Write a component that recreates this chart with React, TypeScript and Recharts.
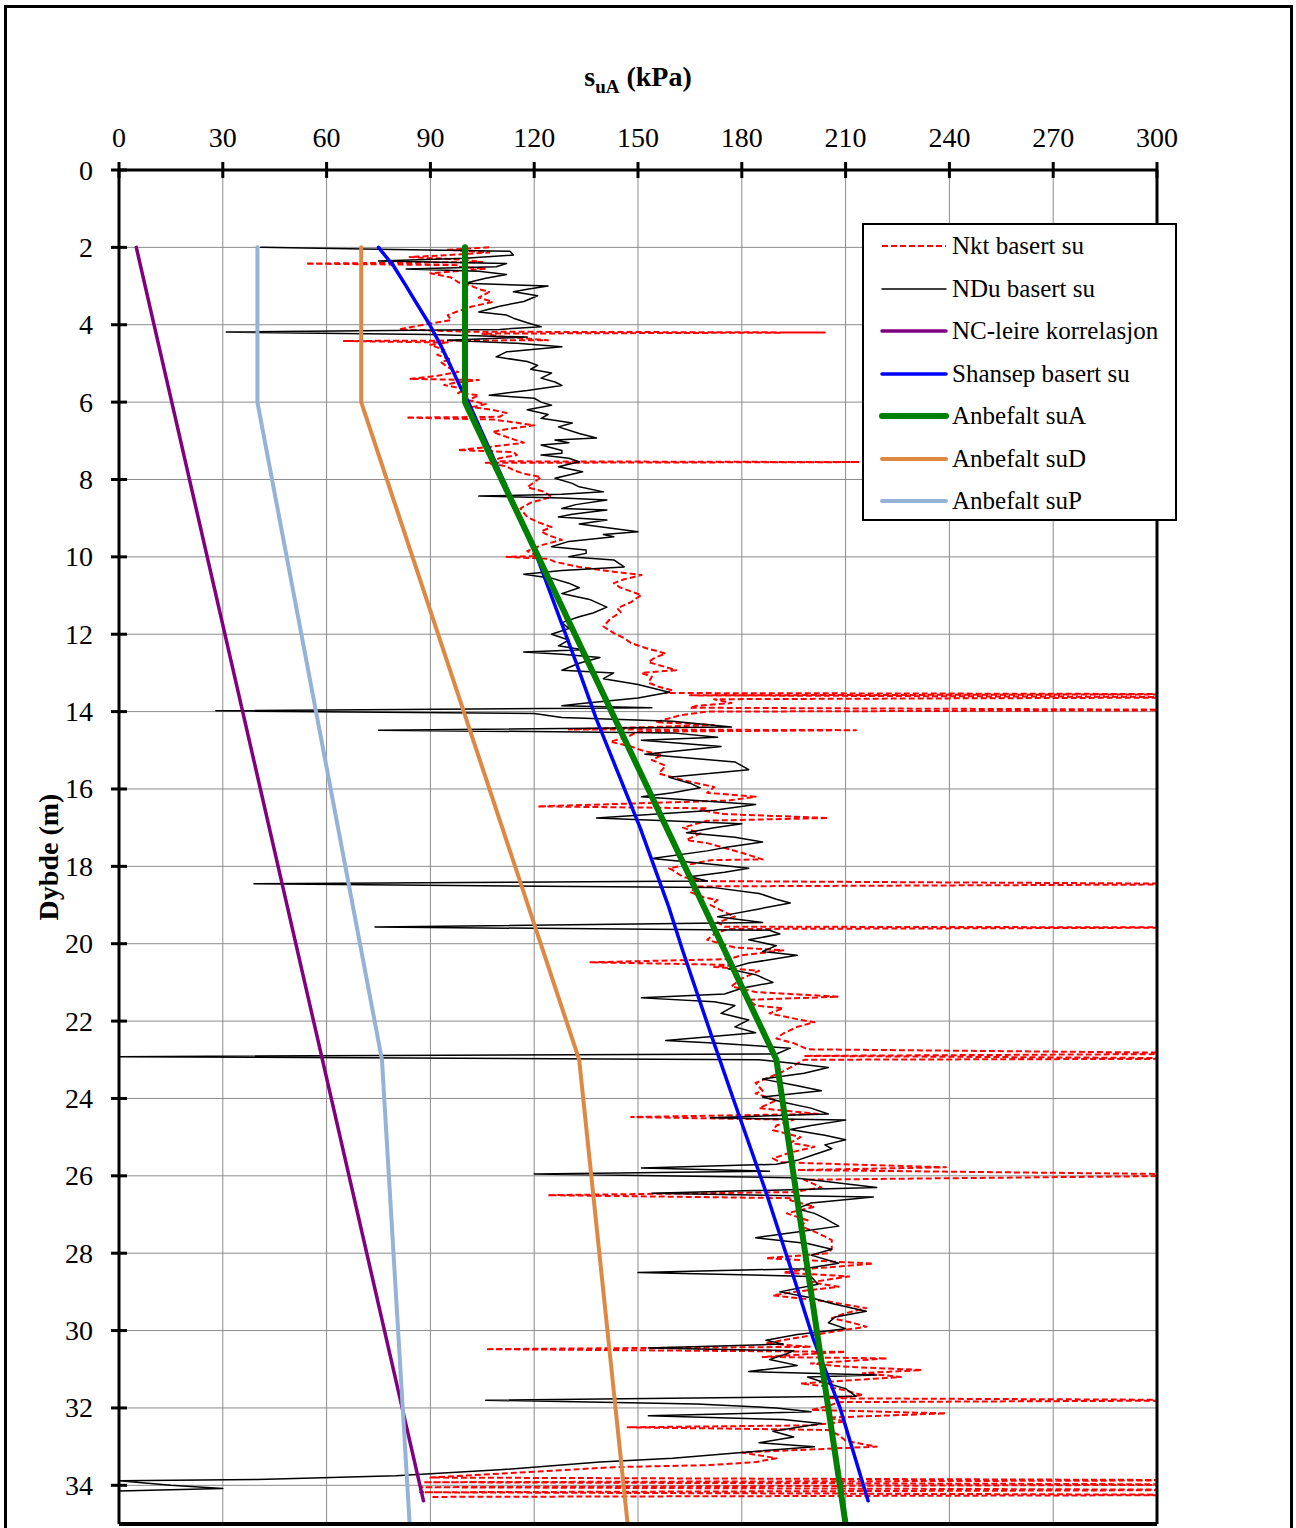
import React from 'react';
import { LineChart, Line, XAxis, YAxis, CartesianGrid, ReferenceLine } from 'recharts';

const FONT = '"Liberation Serif", "Times New Roman", serif';

const suTicks = [0, 30, 60, 90, 120, 150, 180, 210, 240, 270, 300];
const depthTicks = [0, 2, 4, 6, 8, 10, 12, 14, 16, 18, 20, 22, 24, 26, 28, 30, 32, 34];

// [depth m, su kPa]
const nktProfile: [number, number][] = [
  [2.0, 107], [2.06, 95], [2.13, 107], [2.2, 95], [2.25, 84], [2.32, 100], [2.38, 105], [2.42, 54],
  [2.46, 98], [2.5, 98], [2.55, 106], [2.62, 97], [2.67, 90], [2.78, 96], [2.9, 98], [3.0, 102],
  [3.08, 104], [3.15, 107], [3.3, 104], [3.41, 108], [3.53, 102], [3.65, 98], [3.75, 95], [3.88, 96],
  [3.97, 90], [4.05, 85], [4.12, 81], [4.18, 100], [4.2, 204], [4.23, 105], [4.3, 110], [4.4, 124],
  [4.42, 65], [4.46, 95], [4.52, 90], [4.65, 94], [4.78, 92], [4.9, 96], [4.96, 93], [5.1, 95],
  [5.22, 98], [5.32, 92], [5.4, 84], [5.43, 104], [5.5, 97], [5.56, 94], [5.66, 100], [5.77, 98],
  [5.82, 104], [5.95, 101], [6.05, 106], [6.13, 102], [6.2, 108], [6.28, 112], [6.38, 110], [6.4, 83],
  [6.45, 108], [6.52, 114], [6.6, 120], [6.7, 112], [6.77, 108], [6.9, 112], [7.05, 117], [7.15, 108],
  [7.24, 98], [7.29, 114], [7.37, 115], [7.45, 110], [7.53, 108], [7.55, 214], [7.57, 106], [7.66, 112],
  [7.76, 114], [7.85, 117], [7.94, 122], [8.07, 120], [8.2, 118], [8.32, 123], [8.45, 125], [8.6, 119],
  [8.75, 116], [8.97, 118], [9.1, 121], [9.23, 125], [9.34, 122], [9.44, 124], [9.56, 128], [9.7, 122],
  [9.85, 118], [9.98, 121], [10.0, 112], [10.05, 124], [10.13, 126], [10.26, 133], [10.35, 140], [10.47, 151],
  [10.58, 146], [10.68, 143], [10.8, 145], [10.99, 151], [11.1, 149], [11.17, 148], [11.33, 144], [11.43, 145],
  [11.6, 142], [11.8, 140], [11.97, 143], [12.1, 146], [12.23, 148], [12.35, 152], [12.5, 158], [12.6, 155],
  [12.72, 153], [12.85, 158], [12.93, 161], [13.0, 151], [13.1, 154], [13.25, 153], [13.36, 156], [13.45, 160],
  [13.52, 158], [13.55, 330], [13.58, 165], [13.63, 330], [13.68, 172], [13.78, 177], [13.85, 167], [13.9, 165],
  [13.96, 330], [14.0, 170], [14.1, 162], [14.2, 158], [14.27, 155], [14.35, 172], [14.46, 130], [14.48, 213],
  [14.52, 150], [14.65, 147], [14.78, 142], [14.9, 148], [15.0, 151], [15.12, 157], [15.25, 154], [15.4, 158],
  [15.6, 156], [15.77, 163], [15.95, 172], [16.1, 170], [16.2, 184], [16.3, 176], [16.45, 121], [16.5, 170],
  [16.55, 168], [16.65, 175], [16.75, 205], [16.82, 170], [17.0, 163], [17.15, 168], [17.32, 164], [17.4, 170],
  [17.5, 174], [17.65, 180], [17.82, 186], [17.84, 171], [17.95, 165], [18.05, 159], [18.1, 160], [18.27, 163],
  [18.38, 168], [18.46, 330], [18.52, 166], [18.6, 166], [18.66, 165], [18.8, 169], [18.87, 173], [19.0, 171],
  [19.18, 175], [19.3, 178], [19.45, 173], [19.56, 175], [19.58, 330], [19.62, 176], [19.75, 172], [19.9, 170],
  [20.1, 178], [20.17, 192], [20.3, 180], [20.4, 176], [20.48, 136], [20.55, 178], [20.6, 172], [20.7, 185],
  [20.9, 180], [21.1, 177], [21.25, 184], [21.37, 208], [21.45, 182], [21.6, 184], [21.67, 192], [21.8, 188],
  [21.97, 197], [22.03, 201], [22.15, 196], [22.32, 192], [22.45, 190], [22.57, 195], [22.73, 199], [22.84, 330],
  [22.9, 198], [22.97, 330], [23.0, 198], [23.15, 195], [23.3, 192], [23.45, 188], [23.6, 184], [23.8, 186],
  [23.87, 184], [24.05, 190], [24.25, 185], [24.4, 202], [24.48, 148], [24.55, 195], [24.7, 190], [24.82, 189],
  [25.0, 197], [25.15, 194], [25.25, 201], [25.4, 194], [25.55, 189], [25.65, 191], [25.78, 239], [25.85, 196],
  [25.98, 330], [26.1, 198], [26.3, 203], [26.42, 195], [26.5, 124], [26.58, 196], [26.63, 194], [26.8, 201],
  [26.97, 193], [27.15, 199], [27.3, 197], [27.48, 202], [27.66, 206], [27.88, 206], [28.0, 205], [28.13, 187],
  [28.27, 218], [28.4, 200], [28.5, 192], [28.6, 211], [28.75, 200], [28.87, 208], [29.0, 195], [29.09, 189],
  [29.25, 205], [29.42, 216], [29.55, 210], [29.68, 206], [29.8, 212], [29.9, 216], [30.05, 205], [30.2, 195],
  [30.33, 187], [30.42, 200], [30.48, 106], [30.55, 210], [30.68, 186], [30.72, 222], [30.85, 200], [30.93, 209],
  [31.02, 232], [31.1, 215], [31.2, 226], [31.37, 197], [31.45, 205], [31.55, 210], [31.67, 215], [31.75, 205],
  [31.8, 330], [31.85, 208], [31.95, 205], [32.05, 200], [32.14, 239], [32.25, 205], [32.35, 210], [32.45, 200],
  [32.5, 147], [32.57, 205], [32.7, 208], [32.85, 210], [33.0, 219], [33.1, 193], [33.15, 180], [33.3, 190],
  [33.4, 184], [33.48, 170], [33.53, 143], [33.65, 120], [33.8, 90], [33.87, 330], [33.92, 88], [33.98, 330],
  [34.05, 87], [34.12, 330], [34.18, 87], [34.25, 330], [34.3, 90],
];

const nduProfile: [number, number][] = [
  [2.0, 41], [2.05, 75], [2.1, 113], [2.2, 114], [2.28, 100], [2.35, 75], [2.42, 112], [2.5, 109],
  [2.56, 83], [2.62, 104], [2.7, 112], [2.8, 106], [2.93, 100], [3.0, 124], [3.08, 118], [3.15, 114],
  [3.25, 121], [3.4, 117], [3.52, 110], [3.67, 104], [3.75, 112], [3.83, 114], [3.95, 118], [4.05, 122],
  [4.12, 110], [4.19, 31], [4.25, 90], [4.32, 118], [4.4, 95], [4.48, 115], [4.57, 128], [4.7, 112],
  [4.83, 109], [4.95, 118], [5.05, 121], [5.15, 119], [5.25, 125], [5.38, 122], [5.48, 126], [5.57, 128],
  [5.7, 118], [5.82, 107], [5.9, 120], [6.0, 122], [6.08, 125], [6.2, 118], [6.32, 124], [6.42, 122],
  [6.54, 131], [6.64, 127], [6.81, 133], [6.93, 138], [6.98, 126], [7.05, 130], [7.11, 122], [7.25, 128],
  [7.32, 128], [7.37, 122], [7.45, 130], [7.54, 133], [7.67, 127], [7.8, 134], [7.97, 126], [8.1, 131],
  [8.19, 133], [8.32, 140], [8.38, 128], [8.43, 104], [8.48, 128], [8.53, 141], [8.65, 132], [8.75, 128],
  [8.79, 141], [8.9, 131], [8.97, 127], [9.05, 141], [9.15, 133], [9.22, 139], [9.35, 150], [9.42, 140],
  [9.48, 143], [9.6, 130], [9.74, 125], [9.82, 135], [9.91, 135], [10.0, 130], [10.08, 143], [10.26, 146],
  [10.35, 128], [10.45, 117], [10.55, 125], [10.68, 130], [10.8, 133], [10.95, 128], [11.1, 136], [11.3, 141],
  [11.45, 137], [11.55, 133], [11.7, 128], [11.85, 130], [12.0, 125], [12.15, 130], [12.3, 127], [12.4, 134],
  [12.46, 117], [12.52, 128], [12.6, 139], [12.75, 133], [12.93, 128], [13.0, 143], [13.15, 140], [13.3, 150],
  [13.5, 159], [13.65, 150], [13.8, 133], [13.85, 128], [13.9, 154], [13.98, 28], [14.05, 120], [14.15, 128],
  [14.25, 160], [14.4, 177], [14.48, 75], [14.55, 160], [14.66, 173], [14.74, 151], [14.9, 174], [15.1, 152],
  [15.3, 178], [15.5, 182], [15.7, 159], [15.85, 165], [15.97, 168], [16.1, 160], [16.2, 151], [16.4, 184],
  [16.55, 172], [16.75, 138], [16.9, 180], [17.0, 172], [17.13, 164], [17.25, 178], [17.37, 186], [17.5, 176],
  [17.6, 170], [17.8, 154], [17.95, 172], [18.05, 182], [18.15, 175], [18.27, 165], [18.38, 170], [18.45, 39],
  [18.55, 172], [18.7, 185], [18.85, 190], [18.95, 194], [19.1, 185], [19.3, 173], [19.45, 186], [19.57, 74],
  [19.65, 188], [19.75, 191], [19.9, 182], [20.05, 190], [20.2, 186], [20.3, 196], [20.5, 182], [20.65, 176],
  [20.8, 184], [21.0, 189], [21.15, 180], [21.3, 175], [21.4, 151], [21.5, 172], [21.6, 178], [21.8, 174],
  [21.97, 182], [22.15, 178], [22.3, 184], [22.5, 158], [22.57, 173], [22.7, 194], [22.85, 190], [22.92, 0],
  [23.0, 185], [23.1, 196], [23.2, 205], [23.35, 198], [23.5, 186], [23.65, 195], [23.8, 203], [23.96, 186],
  [24.1, 192], [24.25, 200], [24.4, 205], [24.5, 171], [24.56, 210], [24.7, 200], [24.8, 194], [24.95, 204],
  [25.07, 210], [25.2, 204], [25.3, 206], [25.45, 201], [25.6, 196], [25.7, 190], [25.8, 151], [25.88, 188],
  [25.95, 120], [26.05, 195], [26.15, 205], [26.3, 219], [26.45, 154], [26.55, 218], [26.7, 200], [26.85, 196],
  [26.97, 201], [27.1, 204], [27.3, 208], [27.45, 196], [27.6, 184], [27.75, 199], [27.9, 206], [28.05, 200],
  [28.26, 208], [28.4, 198], [28.5, 150], [28.6, 200], [28.8, 202], [29.0, 191], [29.15, 200], [29.3, 206],
  [29.5, 216], [29.65, 207], [29.8, 205], [29.95, 210], [30.1, 196], [30.25, 187], [30.35, 192], [30.45, 153],
  [30.52, 195], [30.6, 193], [30.75, 188], [30.9, 196], [31.06, 182], [31.15, 219], [31.2, 199], [31.35, 204],
  [31.5, 210], [31.7, 213], [31.8, 106], [31.9, 167], [32.0, 190], [32.1, 200], [32.2, 153], [32.3, 192],
  [32.4, 203], [32.6, 189], [32.75, 195], [32.9, 185], [33.0, 201], [33.15, 180], [33.3, 160], [33.4, 139],
  [33.6, 110], [33.75, 80], [33.85, 40], [33.88, 0], [34.0, 15], [34.08, 30], [34.15, 0],
];

const ncClay: [number, number][] = [[2, 5], [34.4, 88]];

const shansep: [number, number][] = [
  [2, 75], [2.5, 79.5], [3.0, 83], [3.3, 85], [4.0, 89.8], [4.5, 92.8], [5.0, 95.5], [5.6, 98.6],
  [6, 101], [8, 111], [10, 120.8], [12.7, 132], [14.2, 138], [17, 150.6], [19, 158.7], [20.2, 163],
  [22.5, 171.7], [24, 177.5], [26.5, 187.3], [28.9, 196], [30.2, 200.6], [32, 208.4], [34.4, 216.5],
];

const suA: [number, number][] = [[2, 100], [6, 100], [23, 190], [35, 210]];
const suD: [number, number][] = [[2, 70], [6, 70], [23, 133], [35, 147]];
const suP: [number, number][] = [[2, 40], [6, 40], [23, 76], [35, 84]];

const series = [
  { name: 'Nkt basert su', points: nktProfile, color: '#FF0000', width: 2, dash: '6 3' },
  { name: 'NDu basert su', points: nduProfile, color: '#000000', width: 1.5 },
  { name: 'NC-leire korrelasjon', points: ncClay, color: '#800080', width: 3.5 },
  { name: 'Shansep basert su', points: shansep, color: '#0000FF', width: 3.5 },
  { name: 'Anbefalt suA', points: suA, color: '#008000', width: 6 },
  { name: 'Anbefalt suD', points: suD, color: '#DE8943', width: 4 },
  { name: 'Anbefalt suP', points: suP, color: '#95B3D7', width: 4 },
];

const TICK_SIZE = 8;
const TICK_MARGIN = 15;

function TopTick(props: any) {
  const { x, y, payload } = props;
  const axisY = y + TICK_SIZE + TICK_MARGIN;
  return (
    <g>
      <line x1={x} x2={x} y1={axisY - 8} y2={axisY + 8} stroke="#000" strokeWidth={3} />
      <text x={x} y={y} textAnchor="middle" fontFamily={FONT} fontSize={28} fill="#000">
        {payload.value}
      </text>
    </g>
  );
}

function LeftTick(props: any) {
  const { x, y, payload } = props;
  const axisX = x + TICK_SIZE + 18;
  return (
    <g>
      <line x1={axisX - 8} x2={axisX + 8} y1={y} y2={y} stroke="#000" strokeWidth={3} />
      <text x={x} y={y} dy="0.34em" textAnchor="end" fontFamily={FONT} fontSize={28} fill="#000">
        {payload.value}
      </text>
    </g>
  );
}

function TopTitle(props: any) {
  const { viewBox } = props;
  const cx = viewBox.x + viewBox.width / 2;
  return (
    <text x={cx} y={viewBox.y - 24} textAnchor="middle" fontFamily={FONT} fontSize={28} fontWeight="bold" fill="#000">
      s<tspan fontSize={19} dy={7}>uA</tspan>
      <tspan dy={-7}> (kPa)</tspan>
    </text>
  );
}

function DepthTitle(props: any) {
  const { viewBox } = props;
  const cx = 48;
  const cy = viewBox.y + viewBox.height / 2 + 10;
  return (
    <text
      x={cx}
      y={cy}
      dy="0.35em"
      transform={`rotate(-90, ${cx}, ${cy})`}
      textAnchor="middle"
      fontFamily={FONT}
      fontSize={28}
      fontWeight="bold"
      fill="#000"
    >
      Dybde (m)
    </text>
  );
}

function LegendBox() {
  return (
    <div
      style={{
        position: 'absolute',
        left: 862,
        top: 223,
        width: 315,
        height: 298,
        boxSizing: 'border-box',
        border: '2px solid #000',
        background: '#fff',
        fontFamily: FONT,
        fontSize: 25,
      }}
    >
      {series.map((s) => (
        <div key={s.name} style={{ display: 'flex', alignItems: 'center', height: 42.5 }}>
          <svg width={88} height={12} style={{ flex: 'none' }}>
            <line
              x1={18}
              x2={82}
              y1={6}
              y2={6}
              stroke={s.color}
              strokeWidth={s.width}
              strokeDasharray={s.dash}
              strokeLinecap={s.dash ? 'butt' : 'round'}
            />
          </svg>
          <span style={{ whiteSpace: 'nowrap' }}>{s.name}</span>
        </div>
      ))}
    </div>
  );
}

export default function App() {
  return (
    <div style={{ position: 'relative', width: 1296, height: 1528, overflow: 'hidden', background: '#fff' }}>
      <style>{'body{margin:0}'}</style>
      <div
        style={{
          position: 'absolute',
          left: 4,
          top: 5,
          width: 1289,
          height: 1560,
          boxSizing: 'border-box',
          border: '3px solid #000',
        }}
      />
      <LineChart
        layout="vertical"
        width={1296}
        height={1528}
        margin={{ top: 110, right: 139, bottom: 4, left: 0 }}
        style={{ position: 'absolute', left: 0, top: 0 }}
      >
        <CartesianGrid stroke="#8c8c8c" strokeWidth={1} />
        <XAxis
          type="number"
          orientation="top"
          domain={[0, 300]}
          ticks={suTicks}
          allowDataOverflow
          height={60}
          tickSize={TICK_SIZE}
          tickMargin={TICK_MARGIN}
          tickLine={false}
          tick={<TopTick />}
          axisLine={{ stroke: '#000', strokeWidth: 3 }}
          label={{ content: <TopTitle /> }}
        />
        <YAxis
          type="number"
          dataKey="d"
          domain={[0, 35]}
          ticks={depthTicks}
          allowDataOverflow
          width={119}
          tickSize={TICK_SIZE}
          tickMargin={18}
          tickLine={false}
          tick={<LeftTick />}
          axisLine={{ stroke: '#000', strokeWidth: 3 }}
          label={{ content: <DepthTitle /> }}
        />
        {series.map((s) => (
          <Line
            key={s.name}
            name={s.name}
            data={s.points.map(([d, v]) => ({ d, v }))}
            dataKey="v"
            stroke={s.color}
            strokeWidth={s.width}
            strokeDasharray={s.dash}
            strokeLinecap={s.dash ? 'butt' : 'round'}
            strokeLinejoin="round"
            dot={false}
            activeDot={false}
            isAnimationActive={false}
          />
        ))}
        <ReferenceLine x={300} stroke="#000" strokeWidth={3} />
        <ReferenceLine y={35} stroke="#000" strokeWidth={4} />
      </LineChart>
      <LegendBox />
    </div>
  );
}
